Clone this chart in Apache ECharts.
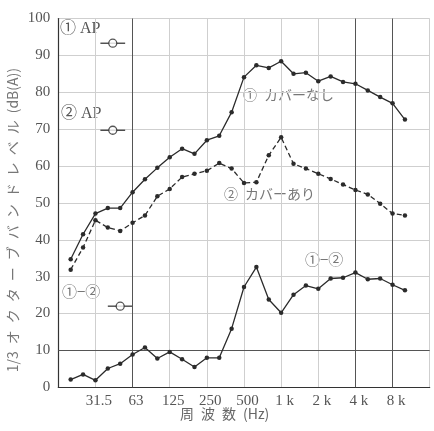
<!DOCTYPE html>
<html>
<head>
<meta charset="utf-8">
<script src="https://cdn.jsdelivr.net/npm/echarts@6/dist/echarts.min.js"></script>
<style>
html,body{margin:0;padding:0;background:#fff;}
#c{width:434px;height:431px;}
</style>
</head>
<body>
<div id="c"></div>
<script>
// 1/3 octave band centre frequencies (band index 0..27)
var bands = ['20','25','31.5','40','50','63','80','100','125','160','200','250','315','400','500','630','800','1k','1.25k','1.6k','2k','2.5k','3.15k','4k','5k','6.3k','8k','10k'];
// Octave tick labels (band index -> label)
var tickLabels = {2:'31.5',5:'63',8:'125',11:'250',14:'500',17:'1 k',20:'2 k',23:'4 k',26:'8 k'};
// ① カバーなし
var noCover = [34.7,41.5,47.1,48.6,48.6,52.9,56.4,59.5,62.4,64.7,63.3,67.0,68.2,74.6,84.1,87.3,86.6,88.4,85.0,85.3,83.0,84.3,82.8,82.3,80.5,78.7,77.0,72.6];
// ② カバーあり
var withCover = [31.9,37.9,45.3,43.3,42.4,44.6,46.6,51.8,53.8,57.0,57.9,58.7,60.8,59.3,55.4,55.6,62.9,67.8,60.6,59.3,57.9,56.5,55.0,53.5,52.3,49.8,47.1,46.6];
// ①-②
var diff = [2.1,3.5,1.9,5.1,6.4,8.9,10.8,7.8,9.6,7.6,5.5,8.0,8.0,15.9,27.2,32.6,23.8,20.2,25.1,27.6,26.7,29.5,29.7,31.1,29.3,29.5,27.8,26.3];
// overall A-weighted levels (AP): [band position, level]
var ap1 = [3.4, 93.3];
var ap2 = [3.4, 69.7];
var apDiff = [4.0, 22.0];

function toXY(arr){ return arr.map(function(v,i){ return [i,v]; }); }
function apLine(p){ return [[p[0]-1,p[1]],[p[0]+1,p[1]]]; }

var ink = '#2b2b2b';
var serif = '"Liberation Serif","Noto Sans CJK JP",serif';
var jp = '"Noto Sans CJK JP","Liberation Serif",sans-serif';

var chart = echarts.init(document.getElementById('c'));
chart.setOption({
  animation:false,
  backgroundColor:'#fff',
  grid:{left:58.3,right:4.3,top:18.5,bottom:43.7,show:false},
  xAxis:{
    type:'value',min:-1,max:29,interval:3,
    axisLine:{show:true,onZero:false,lineStyle:{color:'#333',width:1.2}},
    axisTick:{show:false},
    splitLine:{show:true,lineStyle:{color:'#cfcfcf',width:1}},
    axisLabel:{
      formatter:function(v){ return tickLabels[v]||''; },
      color:'#555',fontFamily:serif,fontSize:15,margin:6,padding:[0,0,0,7]
    }
  },
  yAxis:{
    type:'value',min:0,max:100,interval:10,
    axisLine:{show:true,onZero:false,lineStyle:{color:'#333',width:1.2}},
    axisTick:{show:false},
    splitLine:{show:true,lineStyle:{color:'#cfcfcf',width:1}},
    axisLabel:{color:'#555',fontFamily:serif,fontSize:15,margin:8}
  },
  graphic:[
    {type:'text',left:6,top:68,rotation:Math.PI/2,
     style:{text:'1/3\u2002オ\u2002ク\u2002タ\u2002ー\u2002ブ\u2002バ\u2002ン\u2002ド\u2002レ\u2002ベ\u2002ル\u2002(dB(A))',
       fill:'#777',font:'14px '+jp}},
    {type:'text',left:180,top:407,style:{text:'周\u2002波\u2002数\u2002(Hz)',fill:'#666',font:'14px '+jp}},
    {type:'text',left:243,top:88,style:{text:'①\u2002カバーなし',fill:'#777',font:'14px '+jp}},
    {type:'text',left:224,top:187,style:{text:'②\u2002カバーあり',fill:'#777',font:'14px '+jp}},
    {type:'text',left:305,top:252,style:{text:'①−②',fill:'#777',font:'15px '+jp}},
    {type:'text',left:60,top:21,style:{text:'① AP',fill:'#555',font:'16px '+serif}},
    {type:'text',left:61,top:106,style:{text:'② AP',fill:'#555',font:'16px '+serif}},
    {type:'text',left:62,top:284,style:{text:'①−②',fill:'#777',font:'15px '+jp}}
  ],
  series:[
    {type:'line',data:toXY(noCover),symbol:'circle',symbolSize:4.5,
     itemStyle:{color:ink},lineStyle:{color:ink,width:1.3},z:5,
     markLine:{silent:true,symbol:'none',label:{show:false},
       lineStyle:{color:'#555',width:1,type:'solid'},
       data:[{yAxis:10},{xAxis:5},{xAxis:23},{xAxis:26}]}},
    {type:'line',data:toXY(withCover),symbol:'circle',symbolSize:4.5,
     itemStyle:{color:ink},lineStyle:{color:ink,width:1.3,type:[5,3]},z:5},
    {type:'line',data:toXY(diff),symbol:'circle',symbolSize:4.5,
     itemStyle:{color:ink},lineStyle:{color:ink,width:1.3},z:5},
    {type:'line',data:apLine(ap1),symbol:'none',lineStyle:{color:ink,width:1.2},z:4},
    {type:'line',data:apLine(ap2),symbol:'none',lineStyle:{color:ink,width:1.2},z:4},
    {type:'line',data:apLine(apDiff),symbol:'none',lineStyle:{color:ink,width:1.2},z:4},
    {type:'scatter',data:[ap1,ap2,apDiff],symbol:'circle',symbolSize:8,
     itemStyle:{color:'#fff',borderColor:ink,borderWidth:1.3},z:6}
  ]
});
</script>
</body>
</html>
